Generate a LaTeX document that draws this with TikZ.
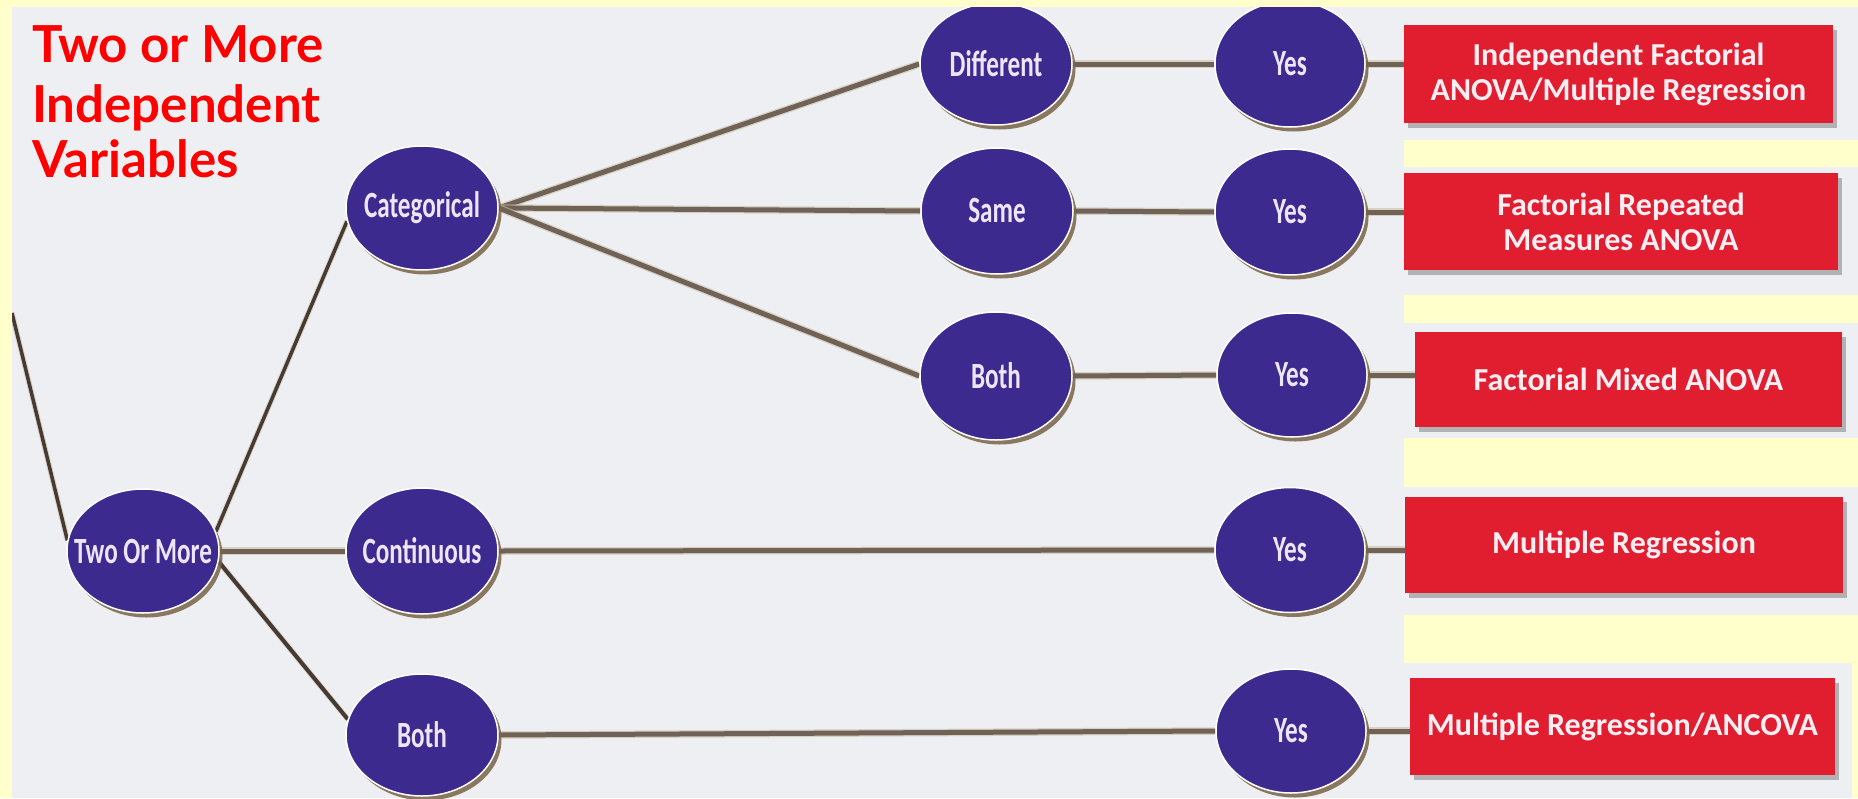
\documentclass[tikz,border=0pt]{standalone}
\usepackage{fontspec}
\setmainfont{Carlito}
\newfontfamily\ellfont{Carlito}[FakeStretch=0.68]
\newfontfamily\titlefont{Lato}
\usetikzlibrary{shapes.geometric,shadows}
\definecolor{paper}{RGB}{237,239,242}
\definecolor{frame}{RGB}{255,255,204}
\definecolor{ellfill}{RGB}{60,42,143}
\definecolor{elltext}{RGB}{236,230,248}
\definecolor{boxred}{RGB}{224,30,48}
\definecolor{boxtext}{RGB}{252,238,242}
\definecolor{ropecol}{RGB}{112,98,86}
\definecolor{ropehalo}{RGB}{200,190,165}
\definecolor{ropedark}{RGB}{70,58,50}
\definecolor{shadbrown}{RGB}{120,100,70}
\newcommand\ztxt[1]{\makebox[0pt]{#1}}
\pgfdeclarelayer{bg}
\pgfdeclarelayer{lines}
\pgfsetlayers{bg,lines,main}
\begin{document}
\begin{tikzpicture}[x=1pt,y=-1pt,
  ell/.style={ellipse, fill=ellfill, draw=white, line width=1.5pt, inner sep=0pt,
    minimum width=152pt, minimum height=124pt,
    text=elltext, font=\ellfont\bfseries\fontsize{37}{40}\selectfont,
    drop shadow={shadow xshift=3.5pt, shadow yshift=-4.5pt, fill=shadbrown, opacity=0.85}},
  rbox/.style={rectangle, fill=boxred, inner sep=0pt, text=boxtext, align=center,
    font=\bfseries\fontsize{32}{35}\selectfont,
    drop shadow={shadow xshift=4pt, shadow yshift=-5pt, fill=black!50, opacity=0.55}},
  ttl/.style={text=red, font=\titlefont\bfseries\fontsize{51}{55}\selectfont, inner sep=0pt, anchor=base west},
  rope/.style={draw=ropecol, line width=5pt, preaction={draw=ropehalo, line width=7.5pt, opacity=0.6}},
  ropethin/.style={draw=ropedark, line width=3.5pt, preaction={draw=ropehalo, line width=5.5pt, opacity=0.5}}
]
\useasboundingbox (0,0) rectangle (1858,798);

\begin{pgfonlayer}{bg}
  \fill[frame] (0,0) rectangle (1858,798);
  \fill[paper] (12,7) rectangle (1404,798);
  \fill[paper] (1404,7) rectangle (1858,140);
  \fill[paper] (1404,167) rectangle (1858,295);
  \fill[paper] (1404,323) rectangle (1858,438);
  \fill[paper] (1404,487) rectangle (1858,615);
  \fill[paper] (1404,663) rectangle (1852,798);
\end{pgfonlayer}

% title
\node[ttl] (T1) at (32,62) {Two or More};
\node[ttl] (T2) at (32,122) {Independent};
\node[ttl] (T3) at (32,177) {Variables};

% ellipses
\node[ell] (A) at (143,551) {\ztxt{Two Or More}};
\node[ell] (C) at (422,208) {\ztxt{Categorical}};
\node[ell, minimum height=126pt] (Co) at (422,551) {\ztxt{Continuous}};
\node[ell, minimum height=122pt] (B1) at (422,735) {\ztxt{Both}};
\node[ell, minimum height=122pt] (D) at (996,64) {\ztxt{Different}};
\node[ell, minimum height=126pt] (S) at (997,211) {\ztxt{Same}};
\node[ell, minimum height=128pt] (B2) at (996,376) {\ztxt{Both}};
\node[ell, minimum width=150pt, minimum height=126pt] (Y1) at (1290,64) {\ztxt{Yes}};
\node[ell, minimum width=150pt, minimum height=126pt] (Y2) at (1290,212) {\ztxt{Yes}};
\node[ell, minimum width=150pt] (Y3) at (1292,375) {\ztxt{Yes}};
\node[ell, minimum width=150pt, minimum height=125pt] (Y4) at (1290,550) {\ztxt{Yes}};
\node[ell, minimum width=150pt] (Y5) at (1291,731) {\ztxt{Yes}};

% result boxes
\node[rbox, minimum width=429pt, minimum height=98pt] (R1) at (1618.5,74) {Independent Factorial\\ANOVA/Multiple Regression};
\node[rbox, minimum width=434pt, minimum height=97pt] (R2) at (1621,221.5) {Factorial Repeated\\Measures ANOVA};
\node[rbox, minimum width=427pt, minimum height=95pt] (R3) at (1628.5,379.5) {Factorial Mixed ANOVA};
\node[rbox, minimum width=438pt, minimum height=96pt] (R4) at (1624,545) {Multiple Regression};
\node[rbox, minimum width=425pt, minimum height=97pt] (R5) at (1622.5,726.5) {Multiple Regression/ANCOVA};

\coordinate (L) at (12,313);

\begin{pgfonlayer}{lines}
  \draw[ropethin] (L) -- (A.172);
  \draw[ropethin] (A.15) -- (C.190);
  \draw[rope] (A.east) -- (Co.west);
  \draw[ropethin, line width=4pt] (A.-8) -- (B1.168);
  \draw[rope] (C.east) -- (D.west);
  \draw[rope] (C.east) -- (S.west);
  \draw[rope] (C.east) -- (B2.west);
  \draw[rope] (D.east) -- (Y1.west);
  \draw[rope] (S.east) -- (Y2.west);
  \draw[rope] (B2.east) -- (Y3.west);
  \draw[rope] (Co.east) -- (Y4.west);
  \draw[rope] (B1.east) -- (Y5.west);
  \draw[rope] (Y1.east) -- (R1.west |- Y1.east);
  \draw[rope] (Y2.east) -- (R2.west |- Y2.east);
  \draw[rope] (Y3.east) -- (R3.west |- Y3.east);
  \draw[rope] (Y4.east) -- (R4.west |- Y4.east);
  \draw[rope] (Y5.east) -- (R5.west |- Y5.east);
\end{pgfonlayer}

% outer frame strips on top
\fill[frame] (0,0) rectangle (1858,7);
\fill[frame] (0,0) rectangle (12,798);
\end{tikzpicture}
\end{document}
